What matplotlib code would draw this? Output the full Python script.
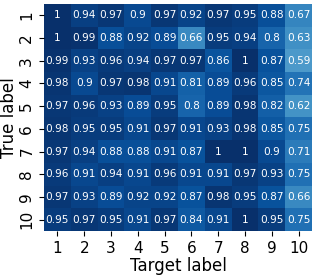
import matplotlib
matplotlib.use("Agg")
import matplotlib.pyplot as plt
import numpy as np

# class labels
labels = [str(i) for i in range(1, 11)]

# normalized confusion values, one row per true label
row1 = [1, 0.94, 0.97, 0.9, 0.97, 0.92, 0.97, 0.95, 0.88, 0.67]
row2 = [1, 0.99, 0.88, 0.92, 0.89, 0.66, 0.95, 0.94, 0.8, 0.63]
row3 = [0.99, 0.93, 0.96, 0.94, 0.97, 0.97, 0.86, 1, 0.87, 0.59]
row4 = [0.98, 0.9, 0.97, 0.98, 0.91, 0.81, 0.89, 0.96, 0.85, 0.74]
row5 = [0.97, 0.96, 0.93, 0.89, 0.95, 0.8, 0.89, 0.98, 0.82, 0.62]
row6 = [0.98, 0.95, 0.95, 0.91, 0.97, 0.91, 0.93, 0.98, 0.85, 0.75]
row7 = [0.97, 0.94, 0.88, 0.88, 0.91, 0.87, 1, 1, 0.9, 0.71]
row8 = [0.96, 0.91, 0.94, 0.91, 0.96, 0.91, 0.91, 0.97, 0.93, 0.75]
row9 = [0.97, 0.93, 0.89, 0.92, 0.92, 0.87, 0.98, 0.95, 0.87, 0.66]
row10 = [0.95, 0.97, 0.95, 0.91, 0.97, 0.84, 0.91, 1, 0.95, 0.75]

cm = np.array([row1, row2, row3, row4, row5, row6, row7, row8, row9, row10])

fig = plt.figure(figsize=(3.18, 2.8), dpi=100)
ax = fig.add_axes([44 / 318, 1 - 231 / 280, 268 / 318, 227 / 280])
ax.imshow(cm, cmap="Blues", vmin=0, vmax=1, aspect="auto")

for i in range(cm.shape[0]):
    for j in range(cm.shape[1]):
        v = cm[i, j]
        txt = "1" if v == 1 else f"{v:g}"
        ax.text(j, i, txt, ha="center", va="center", color="white", fontsize=7.6)

ax.set_xticks(range(10))
ax.set_xticklabels(labels, fontsize=11)
ax.set_yticks(range(10))
ax.set_yticklabels(labels, fontsize=11, rotation=90, va="center")
ax.set_xlabel("Target label", fontsize=12, labelpad=1)
ax.set_ylabel("True label", fontsize=12, labelpad=1)
for s in ax.spines.values():
    s.set_visible(False)

fig.savefig("out.png", dpi=100)
